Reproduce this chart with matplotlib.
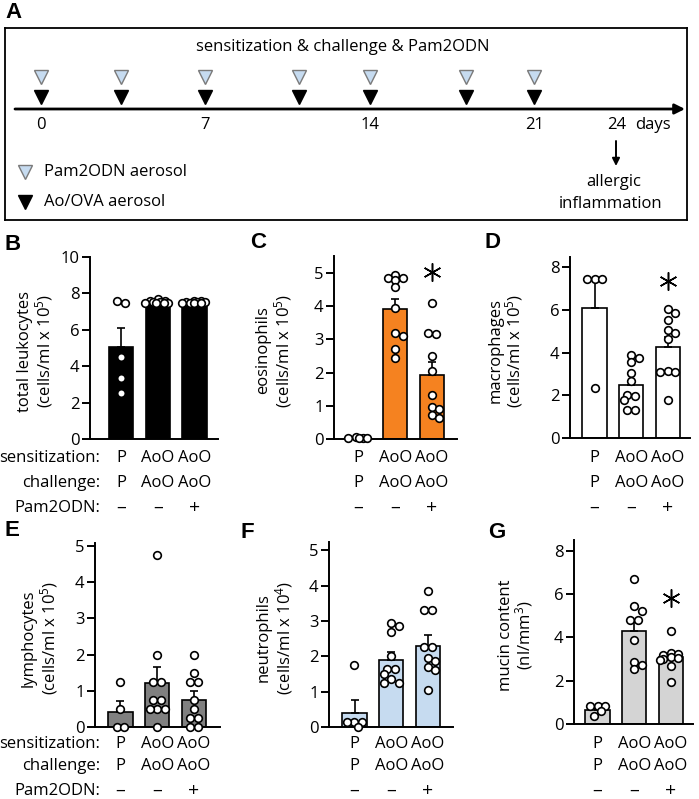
import matplotlib
matplotlib.use("Agg")
import matplotlib.pyplot as plt
import matplotlib.transforms as mtransforms
import numpy as np

plt.rcParams['font.family'] = ['Open Sans', 'DejaVu Sans']
plt.rcParams['mathtext.fontset'] = 'custom'
plt.rcParams['mathtext.rm'] = 'Open Sans'
plt.rcParams['mathtext.it'] = 'Open Sans:italic'
plt.rcParams['mathtext.bf'] = 'Open Sans:bold'

# ---------------- data ----------------
# Panel A: timeline
exposure_days = [0, 3.4, 7, 11, 14, 18.1, 21]
day_ticks = [0, 7, 14, 21, 24]
timeline_title = "sensitization & challenge & Pam2ODN"

# group labels
sens_labels = ["P", "AoO", "AoO"]
chal_labels = ["P", "AoO", "AoO"]
pam_labels = ["\u2013", "\u2013", "+"]
row_titles = ["sensitization:", "challenge:", "Pam2ODN:"]

# B total leukocytes
b_mean = [5.07, 7.54, 7.54]
b_sem = [1.05, 0.05, 0.03]
b_pts = [[7.6, 7.5, 4.52, 3.33, 2.51],
         [7.7, 7.6, 7.6, 7.55, 7.55, 7.5, 7.5, 7.5, 7.45],
         [7.6, 7.6, 7.55, 7.55, 7.55, 7.5, 7.5, 7.5, 7.5]]
# C eosinophils
c_mean = [0.04, 3.91, 1.93]
c_sem = [0.01, 0.31, 0.38]
c_pts = [[0.05, 0.04, 0.02, 0.02, 0.02],
         [4.94, 4.86, 4.84, 4.78, 4.57, 3.94, 3.2, 3.1, 2.7, 2.43],
         [4.1, 3.2, 3.15, 2.5, 2.05, 1.33, 0.97, 0.89, 0.72, 0.62]]
c_star = 5.04
# D macrophages
d_mean = [6.1, 2.48, 4.24]
d_sem = [1.3, 0.2, 0.5]
d_pts = [[7.42, 7.42, 7.42, 2.32],
         [3.9, 3.75, 3.55, 3.05, 2.65, 2.0, 1.95, 1.8, 1.3, 1.3],
         [6.02, 5.83, 5.52, 5.05, 4.9, 4.63, 3.15, 3.1, 3.1, 1.78]]
d_star = 7.36
# E lymphocytes
e_mean = [0.41, 1.21, 0.75]
e_sem = [0.32, 0.44, 0.25]
e_pts = [[1.25, 0.5, 0.0, 0.0],
         [4.75, 2.0, 1.25, 1.25, 0.75, 0.75, 0.5, 0.5, 0.5, 0.0],
         [2.0, 1.5, 1.25, 1.25, 0.75, 0.5, 0.25, 0.25, 0.0, 0.0]]
# F neutrophils
f_mean = [0.40, 1.89, 2.29]
f_sem = [0.36, 0.24, 0.31]
f_pts = [[1.75, 0.15, 0.15, 0.15, 0.0],
         [2.95, 2.85, 2.69, 2.0, 1.64, 1.64, 1.5, 1.35, 1.25, 1.25],
         [3.85, 3.3, 3.3, 2.25, 2.25, 1.96, 1.87, 1.7, 1.61, 1.06]]
# G mucin content
g_mean = [0.65, 4.3, 3.11]
g_sem = [0.06, 0.51, 0.14]
g_pts = [[0.85, 0.85, 0.85, 0.62, 0.38],
         [6.7, 5.46, 5.24, 4.81, 4.81, 3.88, 2.85, 2.73, 2.53],
         [4.31, 3.27, 3.25, 3.2, 3.1, 3.05, 3.0, 2.95, 2.68, 1.93]]
g_star = 5.81

# ---------------- figure ----------------
W, H = 699, 799
fig = plt.figure(figsize=(W / 100, H / 100), dpi=100)
FS = 12
LETTER = dict(fontsize=16, fontweight='bold', family='Liberation Sans', va='center', ha='left')


def fx(px):
    return px / W


def fy(py):
    return 1 - py / H


# ---------------- Panel A ----------------
day0_px, px_per_day = 41.0, 23.48


def px2day(px):
    return (px - day0_px) / px_per_day


axA = fig.add_axes([fx(5), fy(220), fx(687) - fx(5), fy(28) - fy(220)])
axA.set_xlim(px2day(5), px2day(687))
axA.set_ylim(220, 28)
axA.set_xticks([])
axA.set_yticks([])
for s in axA.spines.values():
    s.set_linewidth(1.3)

light_blue = '#C6DBF0'
axA.annotate('', xy=(px2day(685), 109), xytext=(px2day(15), 109),
             arrowprops=dict(arrowstyle='-|>', lw=2, color='black', mutation_scale=15,
                             shrinkA=0, shrinkB=0))
axA.plot(exposure_days, [77] * len(exposure_days), 'v', ms=10.5, mfc=light_blue,
         mec='#7A7A7A', mew=1, ls='none')
axA.plot(exposure_days, [97] * len(exposure_days), 'v', ms=10.5, color='black', ls='none')
for d in day_ticks:
    off = 0 if d != 24 else 617 - (day0_px + 24 * px_per_day)
    axA.annotate(str(d), (d, 125), xytext=(off, 0), textcoords='offset pixels',
                 ha='center', va='center', fontsize=FS)
axA.text(px2day(653), 125, 'days', ha='center', va='center', fontsize=FS)
axA.text(px2day(343), 47, timeline_title, ha='center', va='center', fontsize=FS)
axA.annotate('', xy=(px2day(616), 166), xytext=(px2day(616), 141),
             arrowprops=dict(arrowstyle='-|>', lw=1.4, color='black', mutation_scale=11,
                             shrinkA=0, shrinkB=0))
axA.text(px2day(614), 182, 'allergic', ha='center', va='center', fontsize=FS)
axA.text(px2day(611), 204, 'inflammation', ha='center', va='center', fontsize=FS)
axA.plot([px2day(25)], [172], 'v', ms=10.5, mfc=light_blue, mec='#7A7A7A', mew=1)
axA.text(px2day(44), 172, 'Pam2ODN aerosol', ha='left', va='center', fontsize=FS)
axA.plot([px2day(25)], [202], 'v', ms=10.5, color='black')
axA.text(px2day(44), 202, 'Ao/OVA aerosol', ha='left', va='center', fontsize=FS)
fig.text(fx(5), fy(13), 'A', **LETTER)


# ---------------- bar panels ----------------
def swarm(ax, xc, vals, diam=7.5, maxhalf=12.5):
    vals = np.asarray(vals, float)
    tr = ax.transData
    P = tr.transform(np.column_stack([np.full(len(vals), xc), vals]))
    xc_px = P[0, 0]
    ys = P[:, 1]
    step = diam * 0.5
    cand = [0.0]
    k = 1
    while k * step <= maxhalf + 1e-9:
        cand += [k * step, -k * step]
        k += 1
    order = np.argsort(-vals, kind='stable')
    offs = np.zeros(len(vals))
    placed = []
    for i in order:
        y = ys[i]
        best, bestc, bestd = None, 0.0, -1
        for c in cand:
            dmin = min([np.hypot(c - px, y - py) for px, py in placed], default=1e9)
            if dmin >= diam * 0.9:
                best = c
                break
            if dmin > bestd:
                bestd, bestc = dmin, c
        if best is None:
            best = bestc
        placed.append((best, y))
        offs[i] = best
    used = np.zeros(len(vals), bool)
    for i in order:
        if used[i]:
            continue
        grp = [j for j in range(len(vals)) if not used[j] and abs(ys[j] - ys[i]) < diam * 0.3]
        for j in grp:
            used[j] = True
        if len(grp) > 1:
            offs[grp] -= offs[grp].mean()
    xs_px = xc_px + offs
    return tr.inverted().transform(np.column_stack([xs_px, ys]))[:, 0]


def bar_panel(spine, right, top, bottom, bar0, ylim, yticks, color, means, sems, pts,
              star, ylab1, ylab2, labx1, labx2, letter, letter_xy, rows_y, row_titles_on):
    ax = fig.add_axes([fx(spine), fy(bottom), fx(right) - fx(spine), fy(top) - fy(bottom)])
    sp = 36.7
    ax.set_xlim(-(bar0 - spine) / sp, (right - bar0) / sp)
    ax.set_ylim(*ylim)
    x = np.arange(len(means))
    ax.bar(x, means, width=0.66, color=color, edgecolor='black', linewidth=1.2, zorder=2)
    ax.errorbar(x, means, yerr=[np.zeros(len(means)), sems], fmt='none', ecolor='black',
                elinewidth=1.2, capsize=3, capthick=1.2, zorder=3)
    for i, p in enumerate(pts):
        xs = swarm(ax, i, p)
        ax.plot(xs, p, 'o', ms=5.5, mfc='white', mec='black', mew=1.2, ls='none',
                zorder=4, clip_on=False)
    if star is not None:
        ax.plot([2], [star], marker=(6, 2, 0), ms=13, color='black', mew=1.1, zorder=4)
    for s in ['top', 'right']:
        ax.spines[s].set_visible(False)
    for s in ['left', 'bottom']:
        ax.spines[s].set_linewidth(1.4)
    ax.set_xticks([])
    ax.set_yticks(yticks)
    ax.set_yticklabels([str(t) for t in yticks])
    ax.tick_params(axis='y', length=6, width=1.4, pad=1.5, labelsize=FS)
    cy = (top + bottom) / 2 + 3
    fig.text(fx(labx1), fy(cy), ylab1, rotation=90, ha='center', va='center', fontsize=FS)
    fig.text(fx(labx2), fy(cy), ylab2, rotation=90, ha='center', va='center', fontsize=FS)
    fig.text(fx(letter_xy[0]), fy(letter_xy[1]), letter, **LETTER)
    blend = mtransforms.blended_transform_factory(ax.transData, fig.transFigure)
    for k, (ry, labs) in enumerate(zip(rows_y, [sens_labels, chal_labels, pam_labels])):
        for i, lab in enumerate(labs):
            ax.text(i, fy(ry), lab, transform=blend, ha='center', va='center',
                    fontsize=FS if k < 2 else FS + 2)
    if row_titles_on:
        for ry, t in zip(rows_y, row_titles):
            fig.text(fx(100), fy(ry), t, ha='right', va='center', fontsize=FS)
    return ax


rows_top = [458, 483, 508]
rows_bot = [744, 766, 791]
cells5 = r'(cells/ml x 10$^{5}$)'
cells4 = r'(cells/ml x 10$^{4}$)'

bar_panel(90, 218, 257, 439, 121, (0, 10), [0, 2, 4, 6, 8, 10], 'black', b_mean, b_sem, b_pts,
          None, 'total leukocytes', cells5, 25, 44, 'B', (5, 245), rows_top, True)
bar_panel(334, 457, 256, 439, 358.5, (0, 5.51), [0, 1, 2, 3, 4, 5], '#F58220', c_mean, c_sem, c_pts,
          c_star, 'eosinophils', cells5, 263, 283, 'C', (250, 243), rows_top, False)
bar_panel(570, 690, 257, 438, 594.5, (0, 8.47), [0, 2, 4, 6, 8], 'white', d_mean, d_sem, d_pts,
          d_star, 'macrophages', cells5, 496, 514, 'D', (485, 243), rows_top, False)
bar_panel(95, 220, 543, 727, 120.5, (0, 5.08), [0, 1, 2, 3, 4, 5], '#808080', e_mean, e_sem, e_pts,
          None, 'lymphocytes', cells5, 29, 49, 'E', (5, 530), rows_bot, True)
bar_panel(329, 453, 542, 727, 354.5, (0, 5.23), [0, 1, 2, 3, 4, 5], light_blue, f_mean, f_sem, f_pts,
          None, 'neutrophils', cells4, 264, 284, 'F', (240, 532), rows_bot, False)
bar_panel(574, 693, 540, 724, 597.5, (0, 8.5), [0, 2, 4, 6, 8], '#D4D4D4', g_mean, g_sem, g_pts,
          g_star, 'mucin content', r'(nl/mm$^{3}$)', 506, 524, 'G', (488, 532), rows_bot, False)

fig.savefig('out.png', dpi=100)
